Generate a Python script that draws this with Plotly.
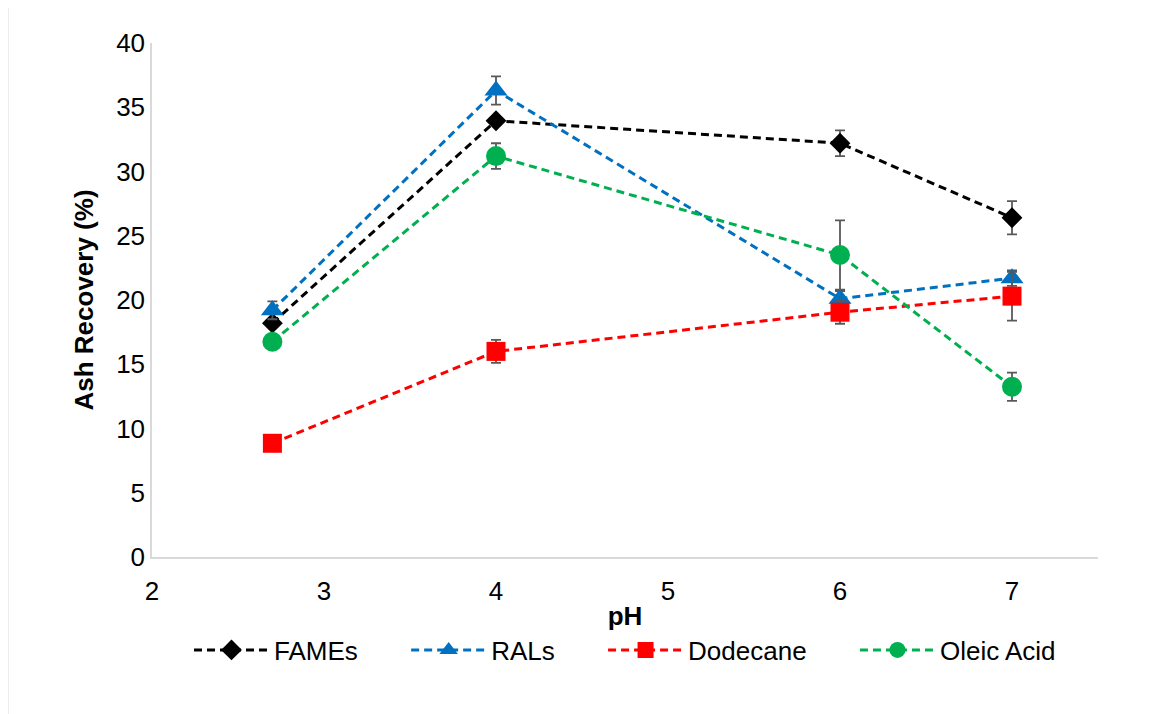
import plotly.graph_objects as go

ph = [2.7, 4, 6, 7]

fames = [18.2, 33.95, 32.2, 26.4]
fames_err = [0.0, 0.0, 1.0, 1.3]

rals = [19.2, 36.3, 20.1, 21.7]
rals_err = [0.7, 1.1, 0.6, 0.6]

dodecane = [8.85, 16.0, 19.05, 20.3]
dodecane_err = [0.0, 0.9, 0.9, 1.9]

oleic = [16.75, 31.2, 23.5, 13.25]
oleic_err = [0.0, 1.0, 2.7, 1.1]

NB = "\u00a0" * 6
series = [
    ("FAMEs" + NB, fames, fames_err, "#000000", "diamond", 16),
    ("RALs" + NB, rals, rals_err, "#0070C0", "triangle-up", 20),
    ("Dodecane" + NB, dodecane, dodecane_err, "#FF0000", "square", 19),
    ("Oleic Acid", oleic, oleic_err, "#00B050", "circle", 20),
]

fig = go.Figure()
for name, y, err, color, sym, size in series:
    fig.add_trace(go.Scatter(
        x=ph, y=y, name=name, mode="lines+markers",
        line=dict(color=color, width=3, dash="8px,5px"),
        marker=dict(symbol=sym, size=size, color=color, line=dict(width=0)),
        error_y=dict(type="data", array=err, visible=True,
                     color="#595959", thickness=1.8, width=5),
    ))

OFF = 8  # page body margin
W, H = 1153 - OFF, 714 - OFF
L, R, T, B = 152 - OFF, 1098 - OFF, 43 - OFF, 557 - OFF
pw, ph_ = R - L, B - T

def px2paper_x(px):
    return (px - OFF - L) / pw

def px2paper_y(py):
    return (B - (py - OFF)) / ph_

fig.add_shape(type="rect", xref="paper", yref="paper",
              x0=px2paper_x(8), x1=px2paper_x(1170),
              y0=px2paper_y(730), y1=px2paper_y(5),
              line=dict(color="#d9d9d9", width=1), fillcolor="rgba(0,0,0,0)",
              layer="below")

font = "Liberation Sans, Arial, sans-serif"
FS = 26
fig.update_layout(
    width=W, height=H,
    margin=dict(l=L, r=W - R, t=T, b=H - B),
    paper_bgcolor="white", plot_bgcolor="white",
    font=dict(family=font, size=FS, color="#000000"),
    showlegend=True,
    legend=dict(orientation="h", x=0.5, xanchor="center",
                y=px2paper_y(650), yanchor="middle",
                font=dict(size=FS), itemwidth=75, tracegroupgap=0),
    xaxis=dict(range=[2, 7.5], tickvals=[2, 3, 4, 5, 6, 7],
               showgrid=False, zeroline=False, showline=True,
               linecolor="#d9d9d9", linewidth=1.5,
               ticks="outside", ticklen=10, tickcolor="rgba(0,0,0,0)",
               tickfont=dict(size=FS),
               title=dict(text="<b>pH</b>", font=dict(size=FS), standoff=2),
               automargin=False),
    yaxis=dict(range=[0, 40], dtick=5,
               showgrid=False, zeroline=False, showline=True,
               linecolor="#d9d9d9", linewidth=1.5,
               ticks="",
               tickfont=dict(size=FS),
               title=dict(text="<b>Ash Recovery (%)</b>", font=dict(size=FS), standoff=15),
               automargin=False),
)

fig.write_html("out.html")
